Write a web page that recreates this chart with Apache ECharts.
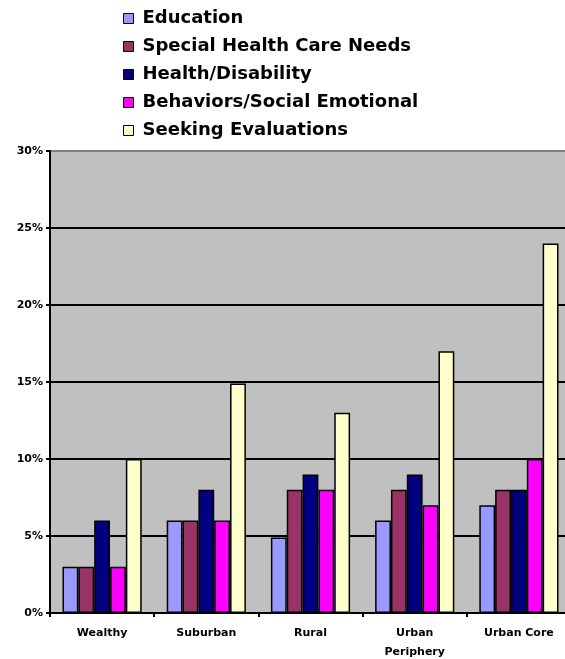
<!DOCTYPE html>
<html><head><meta charset="utf-8">
<script src="https://cdn.jsdelivr.net/npm/echarts@6/dist/echarts.min.js"></script>
<style>html,body{margin:0;padding:0;background:#fff}#c{width:565px;height:659px}</style>
</head><body><div id="c"></div>
<script>
const categories = ['Wealthy', 'Suburban', 'Rural', 'Urban\nPeriphery', 'Urban Core'];
const seriesNames = ['Education', 'Special Health Care Needs', 'Health/Disability', 'Behaviors/Social Emotional', 'Seeking Evaluations'];
const education = [3, 6, 4.9, 6, 7];
const specialNeeds = [3, 6, 8, 8, 8];
const healthDisability = [6, 8, 9, 9, 8];
const behaviors = [3, 6, 8, 7, 10];
const seekingEval = [10, 14.9, 13, 17, 24];
const yTicks = [0, 5, 10, 15, 20, 25, 30];
const colors = ['#9999ff', '#993366', '#000080', '#ff00ff', '#ffffcc'];
const values = [education, specialNeeds, healthDisability, behaviors, seekingEval];

const chart = echarts.init(document.getElementById('c'));
chart.setOption({
  animation: false,
  textStyle: { fontFamily: 'DejaVu Sans, Arial, sans-serif' },
  legend: {
    orient: 'vertical', left: 118, top: 4, itemGap: 9,
    itemWidth: 10, itemHeight: 10, icon: 'rect',
    itemStyle: { borderColor: '#000', borderWidth: 1 },
    textStyle: { fontSize: 18, fontWeight: 'bold', color: '#000', padding: [0, 0, 0, 4], lineHeight: 19 },
    data: seriesNames
  },
  grid: {
    left: 50, top: 151, width: 521, height: 462,
    outerBoundsMode: 'none',
    show: true, backgroundColor: '#c0c0c0', borderColor: '#808080', borderWidth: 2,
    containLabel: false
  },
  xAxis: {
    type: 'category', data: categories,
    axisLine: { lineStyle: { color: '#000', width: 2 } },
    axisTick: { show: true, length: 4, lineStyle: { color: '#000', width: 2 } },
    axisLabel: { fontSize: 11, fontWeight: 'bold', color: '#000', margin: 11, lineHeight: 19 }
  },
  yAxis: {
    type: 'value', min: 0, max: 30, interval: 5,
    axisLine: { show: true, lineStyle: { color: '#000', width: 2 } },
    axisTick: { show: true, length: 4, lineStyle: { color: '#000', width: 2 } },
    splitLine: { show: true, showMaxLine: false, lineStyle: { color: '#000', width: 2 } },
    axisLabel: { fontSize: 11, fontWeight: 'bold', color: '#000', margin: 7,
      formatter: v => yTicks.includes(v) ? v + '%' : '' }
  },
  series: seriesNames.map((n, i) => ({
    name: n, type: 'bar', data: values[i],
    barGap: '0%', barCategoryGap: '24%',
    itemStyle: { color: colors[i], borderColor: '#000', borderWidth: 1.5 }
  }))
});
</script></body></html>
